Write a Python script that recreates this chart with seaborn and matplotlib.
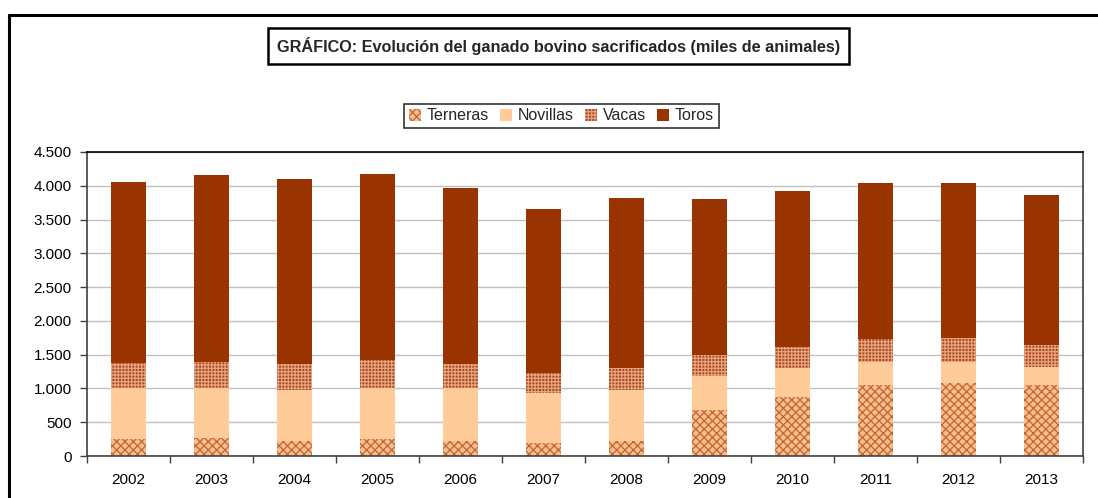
import matplotlib
matplotlib.use("Agg")
import matplotlib.pyplot as plt
import seaborn as sns
import numpy as np
import pandas as pd
from matplotlib.patches import Patch
from matplotlib.lines import Line2D
from matplotlib.ticker import FuncFormatter, FixedLocator

years = ["2002", "2003", "2004", "2005", "2006", "2007",
         "2008", "2009", "2010", "2011", "2012", "2013"]
terneras = [255, 270, 220, 250, 220, 190, 225, 680, 870, 1050, 1080, 1050]
novillas = [745, 735, 760, 750, 780, 745, 755, 505, 430, 345, 315, 265]
vacas = [370, 390, 385, 420, 365, 295, 330, 315, 315, 335, 350, 330]
toros = [2687, 2765, 2735, 2754, 2602, 2426, 2509, 2304, 2310, 2310, 2295, 2220]

series_names = ["Terneras", "Novillas", "Vacas", "Toros"]
title_text = "GRÁFICO: Evolución del ganado bovino sacrificados (miles de animales)"

sns.set_style("white")
plt.rcParams["font.family"] = ["Liberation Sans", "DejaVu Sans"]
plt.rcParams["hatch.linewidth"] = 0.9

df = pd.DataFrame({"year": years, "Terneras": terneras, "Novillas": novillas,
                   "Vacas": vacas, "Toros": toros})
cum = df[series_names].cumsum(axis=1)
df_cum = pd.concat([df[["year"]], cum], axis=1)

styles = {
    "Terneras": dict(fc="#F6BE8E", hatch="xxxx", ec="#C5642E"),
    "Novillas": dict(fc="#FFCC99", hatch=None, ec="#FFCC99"),
    "Vacas": dict(fc="#A84A22", hatch="+++++", ec="#E9A47E"),
    "Toros": dict(fc="#993300", hatch=None, ec="#993300"),
}

W, H = 1098, 498
fig = plt.figure(figsize=(W / 100, H / 100), dpi=100)
ax = fig.add_axes([87 / W, 1 - 456 / H, (1083 - 87) / W, (456 - 152) / H])
ax.set_axisbelow(True)
ax.yaxis.grid(True, color="#C0C0C0", linewidth=1.0)
ax.xaxis.grid(False)

for name in reversed(series_names):
    st = styles[name]
    kw = dict(data=df_cum, x="year", y=name, color=st["fc"], saturation=1,
              width=0.41, ax=ax, edgecolor=st["ec"], linewidth=0)
    if st["hatch"]:
        kw["hatch"] = st["hatch"]
    sns.barplot(**kw)

ax.set_xlim(-0.5, len(years) - 0.5)
ax.set_ylim(0, 4500)
ax.set_yticks(np.arange(0, 4501, 500))
ax.yaxis.set_major_formatter(FuncFormatter(lambda v, p: f"{int(v):,}".replace(",", ".")))
ax.set_xlabel("")
ax.set_ylabel("")
ax.xaxis.set_minor_locator(FixedLocator(np.arange(-0.5, len(years), 1.0)))
ax.tick_params(axis="x", which="major", length=0, pad=12, labelsize=11, colors="black")
ax.tick_params(axis="x", which="minor", length=5, width=1, color="#404040", direction="out", bottom=True)
ax.tick_params(axis="y", which="major", length=5, width=1, color="#404040", direction="out",
               left=True, pad=6, labelsize=11, labelcolor="black")
for s in ax.spines.values():
    s.set_visible(True)
    s.set_color("#404040")
    s.set_linewidth(1.2)
ax.spines["top"].set_color("black")

handles = [Patch(facecolor=styles[n]["fc"], edgecolor=styles[n]["ec"], hatch=styles[n]["hatch"],
                 linewidth=0) for n in series_names]
leg = fig.legend(handles, series_names, loc="center", bbox_to_anchor=(561.5 / W, 1 - 116 / H),
                 ncol=4, frameon=True, fancybox=False, edgecolor="black", fontsize=11.5,
                 handlelength=0.75, handleheight=0.75, handletextpad=0.35, columnspacing=0.7,
                 borderpad=0.3, borderaxespad=0)
leg.get_frame().set_linewidth(1.2)

fig.text(558.5 / W, 1 - 46 / H, title_text, ha="center", va="center", fontsize=11.7,
         fontweight="bold",
         bbox=dict(boxstyle="square,pad=0.55", fc="white", ec="black", lw=1.8))

fig.add_artist(Line2D([8.5 / W, 8.5 / W], [0, 1 - 15 / H], color="black", lw=2.2,
                      transform=fig.transFigure))
fig.add_artist(Line2D([8.5 / W, 1.0], [1 - 15 / H, 1 - 15 / H], color="black", lw=2.2,
                      transform=fig.transFigure))

fig.savefig("out.png", dpi=100)
